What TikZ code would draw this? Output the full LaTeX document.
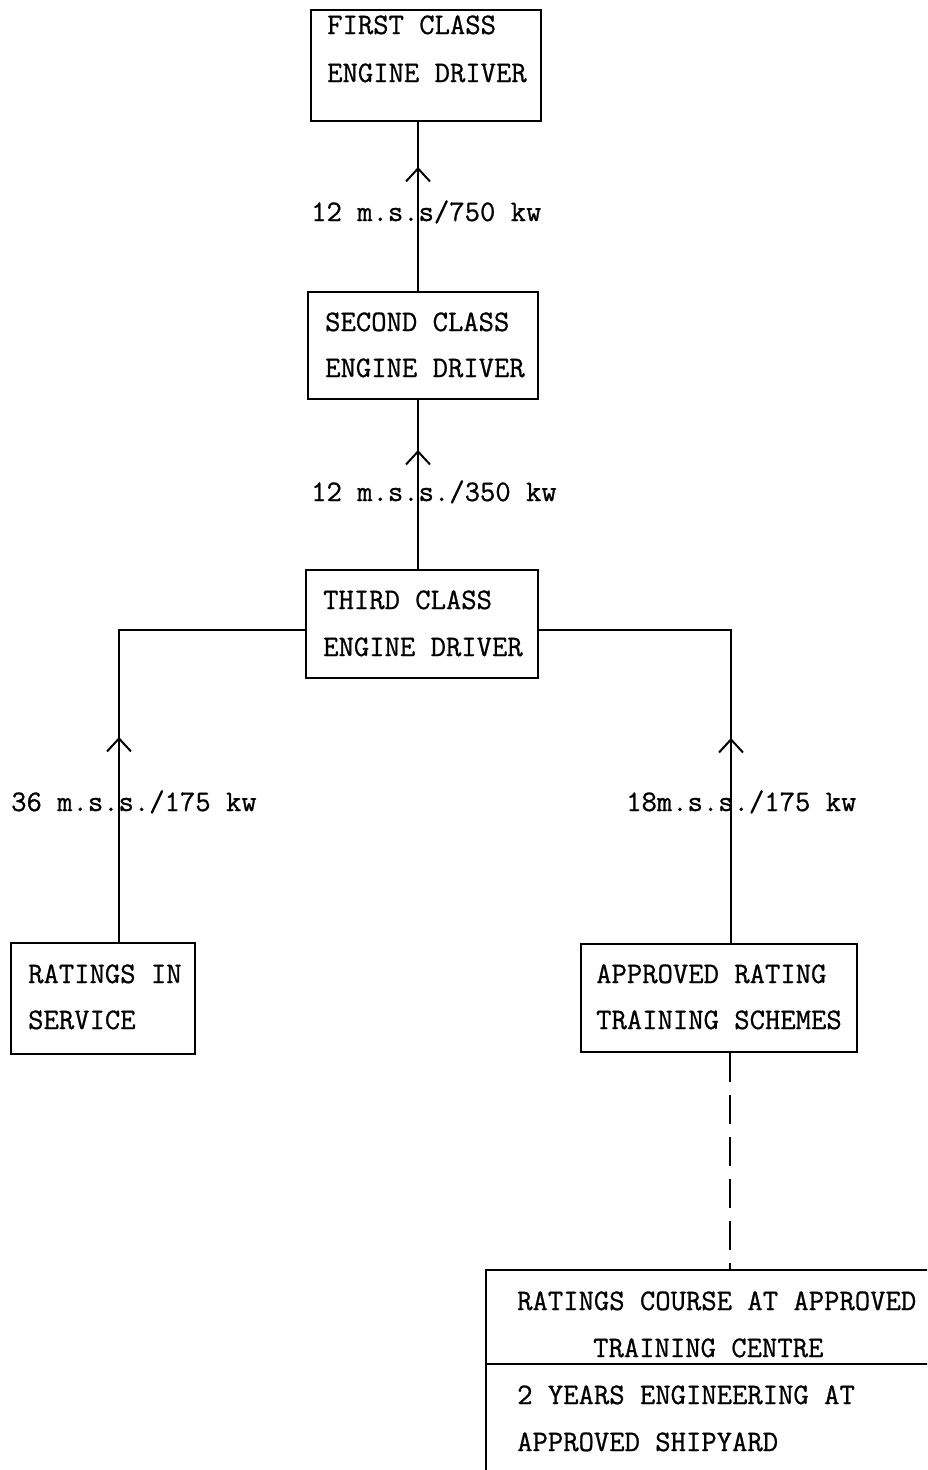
\documentclass[tikz,border=0pt]{standalone}
\usepackage{fontspec}
\newfontfamily\twfont{Latin Modern Mono}[FakeBold=0.8]
\usetikzlibrary{arrows.meta,decorations.markings}
\begin{document}
\begin{tikzpicture}[x=1pt,y=-1pt,
  box/.style={draw, line width=2pt, rectangle, inner sep=0pt, anchor=north west},
  txt/.style={anchor=base west, inner sep=0pt, font=\twfont\fontsize{29.8}{35}\selectfont},
  conn/.style={line width=2pt},
  arrowat/.style={postaction={decorate}, decoration={markings,
     mark=at position #1 with {\arrow{Straight Barb[length=13pt,width=24pt,line width=2pt]}}}}
]
\useasboundingbox (0,0) rectangle (927,1470);
\clip (0,0) rectangle (927,1470);

% boxes
\node[box, minimum width=230pt, minimum height=111pt] (first) at (310,9) {};
\node[box, minimum width=230pt, minimum height=107pt] (second) at (307,291) {};
\node[box, minimum width=232pt, minimum height=108pt] (third) at (305,569) {};
\node[box, minimum width=184pt, minimum height=111pt] (ratings) at (10,942) {};
\node[box, minimum width=276pt, minimum height=108pt] (approved) at (580,943) {};
\node[box, minimum width=520pt, minimum height=260pt] (course) at (485,1269) {};

% texts
\node[txt] (t1a) at (327,34) {FIRST CLASS};
\node[txt] (t1b) at (327,82) {ENGINE DRIVER};
\node[txt] (t2a) at (325,331) {SECOND CLASS};
\node[txt] (t2b) at (325,377) {ENGINE DRIVER};
\node[txt] (t3a) at (323,609) {THIRD CLASS};
\node[txt] (t3b) at (323,656) {ENGINE DRIVER};
\node[txt] (tra) at (28,983) {RATINGS IN};
\node[txt] (trb) at (28,1029) {SERVICE};
\node[txt] (taa) at (596,983) {APPROVED RATING};
\node[txt] (tab) at (596,1029) {TRAINING SCHEMES};
\node[txt] (tca) at (517,1310) {RATINGS COURSE AT APPROVED};
\node[txt] (tcb) at (593,1357) {TRAINING CENTRE};
\node[txt] (tcc) at (517,1404) {2 YEARS ENGINEERING AT};
\node[txt] (tcd) at (517,1451) {APPROVED SHIPYARD};

% connector coordinates
\coordinate (mx) at (418,0);
\coordinate (lc) at (119,630);
\coordinate (rc) at (731,630);
\coordinate (dx) at (730,0);
\coordinate (dv) at (485,1364);

% connectors
\draw[conn, arrowat=124pt] (second.north -| mx) -- (first.south -| mx);
\draw[conn, arrowat=119pt] (third.north -| mx) -- (second.south -| mx);
\draw[conn, arrowat=205pt] (ratings.north -| lc) -- (lc) -- (third.west |- lc);
\draw[conn, arrowat=205pt] (approved.north -| rc) -- (rc) -- (third.east |- rc);
\draw[conn, dash pattern=on 29pt off 13pt] (approved.south -| dx) -- (course.north -| dx);
\draw[conn] (course.west |- dv) -- (course.east |- dv);

% labels
\node[txt] (l1) at (311,221) {12 m.s.s/750 kw};
\node[txt] (l2) at (311,501) {12 m.s.s./350 kw};
\node[txt] (l3) at (11,811) {36 m.s.s./175 kw};
\node[txt] (l4) at (626,811) {18m.s.s./175 kw};
\end{tikzpicture}
\end{document}
